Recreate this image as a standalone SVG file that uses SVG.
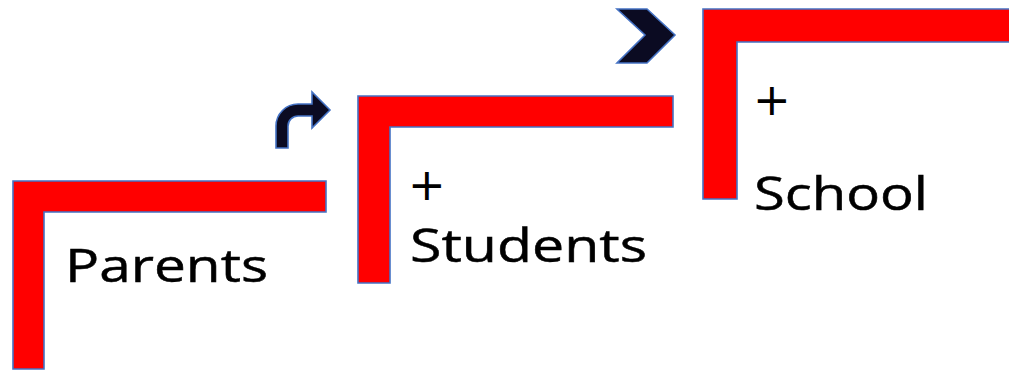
<svg xmlns="http://www.w3.org/2000/svg" width="1009" height="370" viewBox="0 0 1009 370">
<style>
.step{fill:#ff0000;stroke:#4472c4;stroke-width:1.6;stroke-linejoin:miter}
.arrow{fill:#0b0b22;stroke:#4472c4;stroke-width:1.6;stroke-linejoin:miter}
.lbl{font-family:"Open Sans","Liberation Sans",sans-serif;font-size:46px;fill:#000;stroke:#000;stroke-width:0.5}
.plus{font-family:"DejaVu Sans",sans-serif;font-size:45px;fill:#000}
</style>
<rect width="1009" height="370" fill="#ffffff"/>
<g id="step-parents">
<path class="step" d="M13,181 H326 V212 H44 V369 H13 Z"/>
<text class="lbl" x="65" y="282" textLength="203" lengthAdjust="spacingAndGlyphs">Parents</text>
</g>
<g id="step-students">
<path class="step" d="M358,96 H673 V127 H390 V283 H358 Z"/>
<text class="plus" x="408" y="200">+</text>
<text class="lbl" x="410" y="262" textLength="237" lengthAdjust="spacingAndGlyphs">Students</text>
</g>
<g id="step-school">
<path class="step" d="M703,9 H1012 V42 H737 V199 H703 Z"/>
<text class="plus" x="753" y="115">+</text>
<text class="lbl" x="754" y="210" textLength="174" lengthAdjust="spacingAndGlyphs">School</text>
</g>
<g id="connectors">
<path class="arrow" d="M276,148 L276,126 A22,22 0 0 1 298,104 L312,104 L312,92 L330,110 L312,128 L312,116 L298,116 A10,10 0 0 0 288,126 L288,148 Z"/>
<path class="arrow" d="M617,9 L647,9 L675,35 L647,63 L617,63 L645,35 Z"/>
</g>
</svg>
